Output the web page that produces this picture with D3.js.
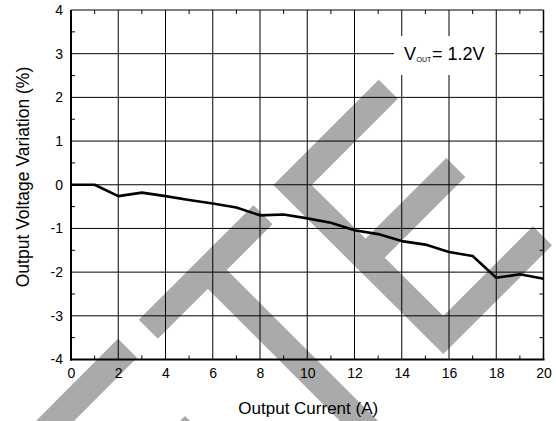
<!DOCTYPE html>
<html><head><meta charset="utf-8">
<script src="https://cdn.jsdelivr.net/npm/d3@7"></script>
<style>body{margin:0;background:#fff}svg{display:block}text{font-family:"Liberation Sans",Arial,Helvetica,sans-serif;fill:#000}</style>
</head><body><svg id="c" width="556" height="421"></svg>
<script>
const current = [0,1,2,3,4,5,6,7,8,9,10,11,12,13,14,15,16,17,18,19,20];
const variation = [0,0,-0.26,-0.18,-0.26,-0.35,-0.43,-0.52,-0.70,-0.68,-0.77,-0.87,-1.04,-1.13,-1.29,-1.37,-1.54,-1.63,-2.13,-2.05,-2.15];
const xTicks = [0,2,4,6,8,10,12,14,16,18,20];
const yTicks = [-4,-3,-2,-1,0,1,2,3,4];
const xMinor = [1,3,5,7,9,11,13,15,17,19];
const yMinor = [-3.5,-2.5,-1.5,-0.5,0.5,1.5,2.5,3.5];

const svg = d3.select("#c");
const x = d3.scaleLinear().domain([0,20]).range([71,543.5]);
const y = d3.scaleLinear().domain([-4,4]).range([359.5,10]);

// watermark (decoration, behind everything)
const wm = svg.append("g").attr("fill","none").attr("stroke","#aaaaaa").attr("stroke-width",27)
  .attr("stroke-linecap","butt").attr("stroke-linejoin","miter");
const strokes = [
  [[127.5,348.3],[40,436]],
  [[148.3,329.3],[263,214.7]],
  [[206,268],[380,442]],
  [[388.3,89.2],[292.5,185],[443.3,335],[542.5,235.8]],
  [[455.8,167.5],[365.4,257.9]],
  [[160,460],[185,435],[210,460]]
];
strokes.forEach(s=>wm.append("path").attr("d",d3.line()(s)));

// grid
const g = svg.append("g");
g.selectAll(".vg").data(xTicks).join("line")
  .attr("x1",d=>x(d)).attr("x2",d=>x(d)).attr("y1",y(4)).attr("y2",y(-4))
  .attr("stroke","#000").attr("stroke-width",1);
g.selectAll(".hg").data(yTicks).join("line")
  .attr("x1",x(0)).attr("x2",x(20)).attr("y1",d=>y(d)).attr("y2",d=>y(d))
  .attr("stroke","#000").attr("stroke-width",1);

// minor ticks
g.selectAll(".mb").data(xMinor).join("line")
  .attr("x1",d=>x(d)).attr("x2",d=>x(d)).attr("y1",y(-4)).attr("y2",y(-4)-4).attr("stroke","#000");
g.selectAll(".mt").data(xMinor).join("line")
  .attr("x1",d=>x(d)).attr("x2",d=>x(d)).attr("y1",y(4)).attr("y2",y(4)+4).attr("stroke","#000");
g.selectAll(".ml").data(yMinor).join("line")
  .attr("x1",x(0)).attr("x2",x(0)+4).attr("y1",d=>y(d)).attr("y2",d=>y(d)).attr("stroke","#000");
g.selectAll(".mr").data(yMinor).join("line")
  .attr("x1",x(20)).attr("x2",x(20)-4).attr("y1",d=>y(d)).attr("y2",d=>y(d)).attr("stroke","#000");

// frame
svg.append("line").attr("x1",x(0)).attr("x2",x(0)).attr("y1",y(4)).attr("y2",y(-4)+1).attr("stroke","#000").attr("stroke-width",2);
svg.append("line").attr("x1",x(0)-1).attr("x2",x(20)+1).attr("y1",y(-4)).attr("y2",y(-4)).attr("stroke","#000").attr("stroke-width",2);
svg.append("line").attr("x1",x(20)).attr("x2",x(20)).attr("y1",y(4)).attr("y2",y(-4)).attr("stroke","#000").attr("stroke-width",1.5);

// axes labels via d3 axes (no domain/tick lines)
const xa = svg.append("g").attr("transform",`translate(0,${y(-4)})`)
  .call(d3.axisBottom(x).tickValues(xTicks).tickSize(0).tickPadding(9).tickFormat(d3.format("d")));
xa.select(".domain").remove();
xa.selectAll("text").attr("font-size",14).style("font-family","'Liberation Sans',Arial,sans-serif").attr("fill","#000");
const ya = svg.append("g").attr("transform",`translate(${x(0)},0)`)
  .call(d3.axisLeft(y).tickValues(yTicks).tickSize(0).tickPadding(8).tickFormat(d=>d<0?"-"+Math.abs(d):String(d)));
ya.select(".domain").remove();
ya.selectAll("text").attr("font-size",14).style("font-family","'Liberation Sans',Arial,sans-serif").attr("fill","#000");

// data line
svg.append("path").datum(current.map((c,i)=>[c,variation[i]]))
  .attr("fill","none").attr("stroke","#000").attr("stroke-width",2.6).attr("stroke-linejoin","round")
  .attr("d",d3.line().x(d=>x(d[0])).y(d=>y(d[1])));

// annotation box
svg.append("rect").attr("x",394).attr("y",36).attr("width",101).attr("height",39).attr("fill","#fff");
svg.append("text").attr("x",404).attr("y",60).attr("font-size",18).text("V");
svg.append("text").attr("x",416.5).attr("y",62).attr("font-size",7).text("OUT");
svg.append("text").attr("x",432).attr("y",60).attr("font-size",18).text("= 1.2V");

// axis titles
svg.append("text").attr("x",x(10)+1).attr("y",414).attr("text-anchor","middle").attr("font-size",17).text("Output Current (A)");
svg.append("text").attr("transform",`translate(28.5,177) rotate(-90)`).attr("text-anchor","middle").attr("font-size",17.5).text("Output Voltage Variation (%)");
</script></body></html>
